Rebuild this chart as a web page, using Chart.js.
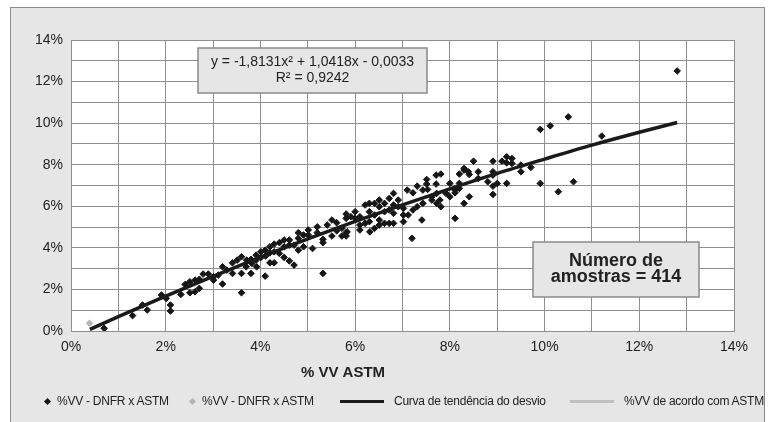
<!DOCTYPE html>
<html>
<head>
<meta charset="utf-8">
<script src="https://cdn.jsdelivr.net/npm/chart.js@4.4.1/dist/chart.umd.min.js"></script>
<style>
  body { margin: 0; background: #fff; }
  #box { position: relative; width: 775px; height: 422px; }
  #legend { position: absolute; left: 0; top: 392px; width: 775px; height: 18px;
    font: 12px "Liberation Sans Narrow", "Arial Narrow", "Liberation Sans", Arial, sans-serif;
    letter-spacing: -0.25px; color: #222; }
  .item { position: absolute; top: 0; height: 18px; display: flex; align-items: center; white-space: nowrap; }
  .dia { width: 5px; height: 5px; transform: rotate(45deg); margin: 0 7px 0 2px; }
  .ln { width: 44px; height: 3px; margin-right: 10px; }
</style>
</head>
<body>
<div id="box">
  <canvas id="chart" width="775" height="422"></canvas>
  <div id="legend"></div>
</div>
<script>
// values, in %
const astmX = [
  0.70, 1.30, 1.61, 1.51, 1.91, 2.01, 2.10, 2.10, 2.32, 2.41, 2.51, 2.51, 2.62, 2.62, 2.71, 2.71,
  2.79, 2.90, 3.01, 3.01, 3.11, 3.20, 3.20, 3.29,
  3.41, 3.41, 3.51, 3.60, 3.60, 3.60, 3.70, 3.71, 3.80, 3.80, 3.82, 3.91, 3.91, 3.92, 4.01, 4.01,
  4.10, 4.10, 4.11, 4.20, 4.20, 4.20, 4.29, 4.29, 4.29, 4.40, 4.40, 4.50, 4.50, 4.50, 4.61, 4.61,
  4.61, 4.71, 4.71, 4.80, 4.80, 4.80, 4.91, 4.91, 5.01, 5.01, 5.10, 5.20, 5.20, 5.32, 5.32, 5.32,
  5.41, 5.51, 5.51, 5.61, 5.61, 5.81, 5.81, 5.81,
  5.72, 5.72, 5.81, 5.83, 5.91, 6.00, 6.00, 6.10, 6.10, 6.10, 6.21, 6.21, 6.30, 6.30, 6.30, 6.31,
  6.41, 6.41, 6.41, 6.51, 6.51, 6.51, 6.51, 6.62, 6.62, 6.62, 6.72, 6.72, 6.72, 6.81, 6.81, 6.81,
  6.81, 6.91, 6.91, 7.02, 7.02, 7.02, 7.10, 7.12, 7.20, 7.22, 7.22, 7.31, 7.31, 7.41, 7.43, 7.43,
  7.51, 7.51, 7.53, 7.62, 7.62, 7.71, 7.71, 7.72, 7.72, 7.81, 7.81, 7.92, 8.00, 8.00, 8.11, 8.11,
  8.20, 8.20, 8.30, 8.30, 8.39,
  7.79, 8.11, 8.20, 8.30, 8.41, 8.41, 8.50, 8.60, 8.60, 8.80, 8.91, 8.91, 8.91, 8.91, 8.91, 9.00,
  9.10, 9.20, 9.20, 9.20, 9.31, 9.31, 9.50, 9.50, 9.71, 9.91, 9.91, 10.12, 10.29, 10.50, 10.61,
  11.21, 12.80
]
const dnfrY = [
  0.13, 0.74, 1.01, 1.25, 1.73, 1.57, 1.25, 0.96, 1.76, 2.24, 2.37, 1.84, 2.45, 1.89, 2.49, 2.05,
  2.74, 2.74, 2.61, 2.45, 2.69, 3.09, 2.26, 2.93,
  2.77, 3.28, 3.41, 3.57, 2.77, 1.84, 3.09, 3.41, 3.45, 2.77, 3.25, 3.65, 3.41, 3.09, 3.81, 3.54,
  3.89, 2.64, 3.61, 4.05, 3.76, 3.28, 4.18, 3.81, 3.28, 4.25, 3.73, 4.38, 4.05, 3.54, 4.38, 4.13,
  3.37, 4.13, 3.17, 4.73, 4.46, 3.89, 4.62, 4.05, 4.86, 4.62, 3.97, 5.01, 4.73, 4.41, 4.25, 2.77,
  5.10, 5.34, 4.57, 5.21, 4.82, 5.63, 4.73, 4.57,
  4.94, 4.57, 5.42, 4.77, 5.50, 5.74, 5.42, 5.50, 5.10, 4.86, 6.06, 5.18, 6.14, 5.74, 5.26, 4.77,
  6.14, 5.58, 4.94, 6.30, 5.98, 5.34, 5.10, 6.14, 5.74, 5.18, 6.38, 5.82, 5.18, 6.62, 6.06, 5.66,
  5.18, 6.30, 5.98, 5.90, 5.58, 5.26, 6.78, 5.58, 4.46, 6.65, 5.82, 6.97, 5.98, 5.34, 6.78, 6.14,
  7.29, 7.07, 6.81, 6.46, 6.30, 7.50, 7.07, 6.62, 6.14, 7.55, 5.98, 6.62, 7.10, 6.46, 5.42, 6.78,
  7.55, 7.10, 7.74, 6.14, 7.66,
  6.30, 6.65, 6.86, 7.82, 7.53, 6.46, 8.17, 7.66, 7.34, 7.18, 8.17, 7.66, 7.50, 6.97, 6.57, 7.10,
  8.17, 8.38, 8.09, 7.10, 8.30, 8.06, 7.66, 7.98, 7.87, 9.70, 7.10, 9.87, 6.70, 10.30, 7.18,
  9.38, 12.51
]
const grayX = [0.39]
const grayY = [0.37]
// points
const trendX = [0.4, 1, 2, 3, 4, 5, 6, 7, 8, 9, 10, 11, 12, 12.8]
const trendY = [0.08, 0.69, 1.68, 2.63, 3.55, 4.43, 5.27, 6.07, 6.84, 7.58, 8.27, 8.94, 9.56, 10.03]

const seriesLabels = ['%VV - DNFR x ASTM', '%VV - DNFR x ASTM', 'Curva de tendência do desvio', '%VV de acordo com ASTM']
const equationText = ['y = -1,8131x² + 1,0418x - 0,0033', 'R² = 0,9242']
const samplesText = ['Número de', 'amostras = 414']
const xTitle = '% VV ASTM'

const FONT = '"Liberation Sans", Arial, sans-serif'
const GRID = '#8e8e8e'

const pairs = (xs, ys) => xs.map((x, i) => ({ x: x, y: ys[i] }))

function textBox(ctx, lines, x, y, w, h, font, lineGap) {
  ctx.fillStyle = '#e6e6e6'
  ctx.fillRect(x, y, w, h)
  ctx.strokeStyle = '#8a8a8a'
  ctx.lineWidth = 1.5
  ctx.strokeRect(x, y, w, h)
  ctx.fillStyle = '#222'
  ctx.font = font
  ctx.textAlign = 'center'
  ctx.textBaseline = 'middle'
  const mid = y + h / 2 - (lines.length - 1) * lineGap / 2
  lines.forEach((t, i) => ctx.fillText(t, x + w / 2, mid + i * lineGap))
}

const frame = {
  id: 'frame',
  beforeDraw(chart) {
    const { ctx, chartArea: a } = chart
    ctx.save()
    ctx.fillStyle = '#fff'
    ctx.fillRect(0, 0, chart.width, chart.height)
    ctx.fillStyle = '#e6e6e6'
    ctx.fillRect(10.5, 7.5, 754, 430)
    ctx.strokeStyle = '#8c8c8c'
    ctx.lineWidth = 1
    ctx.strokeRect(10.5, 7.5, 754, 430)
    ctx.fillStyle = '#fff'
    ctx.fillRect(a.left, a.top, a.width, a.height)
    ctx.restore()
  },
  afterDraw(chart) {
    const ctx = chart.ctx
    ctx.save()
    textBox(ctx, equationText, 198, 48, 229, 45, '14px ' + FONT, 16)
    textBox(ctx, samplesText, 533, 242, 166, 55, 'bold 18px ' + FONT, 16)
    ctx.fillStyle = '#222'
    ctx.font = 'bold 15px ' + FONT
    ctx.textAlign = 'center'
    ctx.textBaseline = 'middle'
    ctx.fillText(xTitle, 343, 373)
    ctx.restore()
  }
}

const pct = v => (v % 2 === 0 ? v + '%' : '')

const chart = new Chart(document.getElementById('chart'), {
  type: 'scatter',
  data: {
    datasets: [
      {
        label: seriesLabels[2],
        type: 'line',
        data: pairs(trendX, trendY),
        borderColor: '#1a1a1a',
        borderWidth: 3.5,
        pointRadius: 0,
        cubicInterpolationMode: 'monotone',
        order: 0,
        legendStyle: 'line'
      },
      {
        label: seriesLabels[0],
        data: pairs(astmX, dnfrY),
        pointStyle: 'rectRot',
        pointRadius: 3.3,
        borderWidth: 1,
        backgroundColor: '#161616',
        borderColor: '#161616',
        order: 1,
        legendStyle: 'dia'
      },
      {
        label: seriesLabels[1],
        data: pairs(grayX, grayY),
        pointStyle: 'rectRot',
        pointRadius: 3.3,
        borderWidth: 1,
        backgroundColor: '#b5b5b5',
        borderColor: '#b5b5b5',
        order: 1,
        legendStyle: 'dia'
      },
      {
        label: seriesLabels[3],
        type: 'line',
        data: [],
        borderColor: '#c0c0c0',
        borderWidth: 3,
        pointRadius: 0,
        order: 2,
        legendStyle: 'line'
      }
    ]
  },
  options: {
    responsive: false,
    animation: false,
    devicePixelRatio: 1,
    layout: { padding: { left: 10, right: 41, top: 40, bottom: 0 } },
    plugins: { legend: { display: false }, tooltip: { enabled: false } },
    scales: {
      x: {
        type: 'linear', min: 0, max: 14,
        afterFit: s => { s.height = 91 },
        grid: { color: GRID, drawTicks: false },
        border: { color: GRID },
        ticks: { stepSize: 1, autoSkip: false, maxRotation: 0, padding: 8, color: '#222',
          font: { family: FONT, size: 14 }, callback: pct }
      },
      y: {
        type: 'linear', min: 0, max: 14,
        afterFit: s => { s.width = 61 },
        grid: { color: GRID, drawTicks: false },
        border: { color: GRID },
        ticks: { stepSize: 1, autoSkip: false, padding: 8, color: '#222',
          font: { family: FONT, size: 14 }, callback: pct }
      }
    }
  },
  plugins: [frame]
})

// legend in the order of the original: diamonds first, then lines
const legendOrder = [1, 2, 0, 3]
const legendLeft = [43, 188, 340, 570]
const legend = document.getElementById('legend')
legendOrder.forEach((di, k) => {
  const ds = chart.data.datasets[di]
  const item = document.createElement('div')
  item.className = 'item'
  item.style.left = legendLeft[k] + 'px'
  const mark = document.createElement('span')
  mark.className = ds.legendStyle === 'dia' ? 'dia' : 'ln'
  mark.style.background = ds.legendStyle === 'dia' ? ds.backgroundColor : ds.borderColor
  const txt = document.createElement('span')
  txt.textContent = ds.label
  item.appendChild(mark)
  item.appendChild(txt)
  legend.appendChild(item)
})
</script>
</body>
</html>
